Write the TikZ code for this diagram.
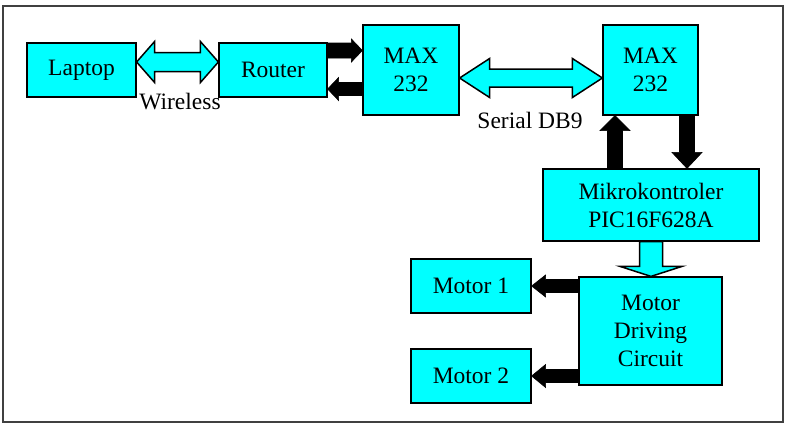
\documentclass[tikz,border=0pt]{standalone}
\usepackage{fontspec}
\setmainfont{Liberation Serif}
\usetikzlibrary{calc}
\definecolor{cy}{HTML}{00FFFF}
\tikzset{
  blk/.style={draw=black, line width=1.2pt, fill=cy, inner sep=0pt, align=center,
    font=\fontsize{23.5}{28}\selectfont},
  lbl/.style={inner sep=0pt, font=\fontsize{23.5}{28}\selectfont},
  cyarrow/.style={draw=black, line width=1.5pt, fill=cy, line join=miter},
  bkarrow/.style={draw=black, line width=0.6pt, fill=black, line join=miter},
}
% horizontal single arrow: style, tail, tip, half shaft, half head, signed head length
\newcommand\hsarrow[6]{\draw[#1] (#3) -- ($(#3)+(#6,-#5)$) -- ($(#3)+(#6,-#4)$) -- ($(#2)+(0,-#4)$) -- ($(#2)+(0,#4)$) -- ($(#3)+(#6,#4)$) -- ($(#3)+(#6,#5)$) -- cycle;}
% vertical single arrow
\newcommand\vsarrow[6]{\draw[#1] (#3) -- ($(#3)+(-#5,#6)$) -- ($(#3)+(-#4,#6)$) -- ($(#2)+(-#4,0)$) -- ($(#2)+(#4,0)$) -- ($(#3)+(#4,#6)$) -- ($(#3)+(#5,#6)$) -- cycle;}
% horizontal double arrow: style, left tip, right tip, half shaft, half head, head length
\newcommand\hdarrow[6]{\draw[#1] (#2) -- ($(#2)+(#6,-#5)$) -- ($(#2)+(#6,-#4)$) -- ($(#3)+(-#6,-#4)$) -- ($(#3)+(-#6,-#5)$) -- (#3) -- ($(#3)+(-#6,#5)$) -- ($(#3)+(-#6,#4)$) -- ($(#2)+(#6,#4)$) -- ($(#2)+(#6,#5)$) -- cycle;}
\begin{document}
\begin{tikzpicture}[x=1pt,y=-1pt]
\useasboundingbox (0,0) rectangle (787,426);
\draw[draw=black!75, line width=1.5pt] (3,6) rectangle (783,422);

\node[blk, minimum width=109pt, minimum height=54pt] (laptop) at (81.5,70) {Laptop};
\node[blk, minimum width=108pt, minimum height=54pt] (router) at (273,70) {Router};
\node[blk, minimum width=96pt, minimum height=90pt] (maxL) at (411,70) {MAX\\232};
\node[blk, minimum width=95pt, minimum height=90pt] (maxR) at (650.5,70) {MAX\\232};
\node[blk, minimum width=216pt, minimum height=72pt] (mcu) at (651,205) {Mikrokontroler\\PIC16F628A};
\node[blk, minimum width=143pt, minimum height=108pt] (drv) at (650.5,331) {Motor\\Driving\\Circuit};
\node[blk, minimum width=120pt, minimum height=54pt] (m1) at (471,286) {Motor 1};
\node[blk, minimum width=120pt, minimum height=54pt] (m2) at (471,376) {Motor 2};

\node[lbl] (wl) at (180,102) {Wireless};
\node[lbl] (sl) at (530,120) {Serial DB9};

% coordinates for connector ends
\coordinate (wA) at ($(laptop.east)+(0,-8)$);
\coordinate (wB) at ($(router.west)+(0,-8)$);
\coordinate (r1a) at ($(router.east)+(0,-19.5)$);
\coordinate (r1b) at ($(maxL.west)+(0,-19.5)$);
\coordinate (r2a) at ($(maxL.west)+(0,19)$);
\coordinate (r2b) at ($(router.east)+(0,19)$);
\coordinate (sA) at ($(maxL.east)+(0,8)$);
\coordinate (sB) at ($(maxR.west)+(0,8)$);
\coordinate (u1) at ($(mcu.north)+(-36,0)$);
\coordinate (u2) at (u1 |- maxR.south);
\coordinate (d1) at ($(maxR.south)+(36.5,0)$);
\coordinate (d2) at (d1 |- mcu.north);
\coordinate (h1) at (mcu.south);
\coordinate (h2) at (h1 |- drv.north);
\coordinate (t1) at (drv.west |- m1.east);
\coordinate (t2) at (drv.west |- m2.east);

\hdarrow{cyarrow}{wA}{wB}{9.5}{20.5}{18}
\hdarrow{cyarrow}{sA}{sB}{9}{19.5}{30}
\hsarrow{bkarrow}{r1a}{r1b}{7.5}{11.5}{-11}
\hsarrow{bkarrow}{r2a}{r2b}{6.5}{11.5}{11}
\vsarrow{bkarrow}{u1}{u2}{7.5}{15}{15}
\vsarrow{bkarrow}{d1}{d2}{7.5}{15}{-16}
\vsarrow{cyarrow}{h1}{h2}{11.5}{31}{-10}
\hsarrow{bkarrow}{t1}{m1.east}{6.5}{11}{14}
\hsarrow{bkarrow}{t2}{m2.east}{6.5}{11.5}{14}
\end{tikzpicture}
\end{document}
